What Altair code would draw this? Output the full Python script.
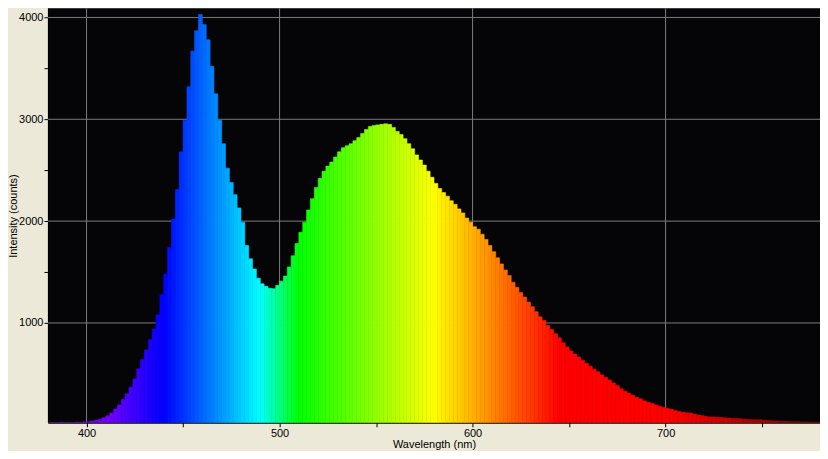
import altair as alt
import pandas as pd

# ---- data ----
WL_START = 380
WL_STEP = 2
intensity = [
    20, 24, 20, 27, 20, 25, 21, 28, 24, 30,            # 380-398
    31, 37, 44, 54, 68, 88, 115, 155, 195, 250,        # 400-418
    305, 370, 450, 550, 640, 735, 835, 940, 1080, 1280,  # 420-438
    1480, 1740, 2020, 2310, 2680, 2990, 3320, 3670, 3870, 4030,  # 440-458
    3930, 3780, 3520, 3250, 2990, 2760, 2520, 2380, 2260, 2130,  # 460-478
    1990, 1760, 1630, 1530, 1440, 1385, 1360, 1340, 1335, 1370,  # 480-498
    1410, 1460, 1550, 1660, 1780, 1890, 1990, 2110, 2220, 2330,  # 500-518
    2420, 2490, 2540, 2580, 2630, 2680, 2720, 2740, 2760, 2790,  # 520-538
    2820, 2860, 2900, 2930, 2940, 2945, 2950, 2955, 2950, 2920,  # 540-558
    2880, 2850, 2810, 2760, 2710, 2650, 2600, 2550, 2490, 2430,  # 560-578
    2370, 2320, 2280, 2245, 2200, 2165, 2120, 2080, 2030, 1990,  # 580-598
    1945, 1920, 1870, 1820, 1760, 1700, 1640, 1580, 1520, 1465,  # 600-618
    1400, 1350, 1300, 1255, 1205, 1160, 1110, 1060, 1025, 975,   # 620-638
    935, 895, 855, 805, 765, 725, 695, 665, 635, 605,            # 640-658
    575, 545, 520, 490, 465, 440, 410, 385, 355, 330,            # 660-678
    310, 290, 270, 255, 235, 222, 210, 195, 182, 170,            # 680-698
    160, 152, 140, 130, 122, 118, 115, 105, 95, 90,              # 700-718
    82, 76, 76, 74, 72, 68, 66, 63, 61, 59,                      # 720-738
    55, 52, 50, 50, 49, 45, 42, 40, 38, 36,                      # 740-758
    34, 32, 31, 30, 30, 29, 29, 28, 27, 26,                      # 760-778
]
wavelengths = [WL_START + i * WL_STEP for i in range(len(intensity))]

x_labels = [400, 500, 600, 700]
x_ticks = [400, 450, 500, 550, 600, 650, 700, 750]
y_labels = [1000, 2000, 3000, 4000]
y_ticks = [1000, 1500, 2000, 2500, 3000, 3500, 4000]

spectrum_wl = [380, 410, 440, 490, 510, 580, 645, 700, 780]
spectrum_colors = ["#5a0096", "#7800ff", "#0000ff", "#00ffff", "#00ff00",
                   "#ffff00", "#ff0000", "#ff0000", "#780000"]

df = pd.DataFrame({"wl": wavelengths, "counts": intensity})

FONT = "Liberation Sans"
xscale = alt.Scale(domain=[380, 780], nice=False, zero=False)
yscale = alt.Scale(domain=[20, 4090], nice=False, zero=False)
cscale = alt.Scale(domain=spectrum_wl, range=spectrum_colors, interpolate="rgb")

x_axis = alt.Axis(
    values=x_ticks, labelExpr="datum.value % 100 == 0 ? datum.label : ''",
    title="Wavelength (nm)", grid=False, format="d",
    tickSize=4, tickColor="#000000", domainColor="#000000",
    labelPadding=1, titlePadding=0, labelFlush=False)
y_axis = alt.Axis(
    values=y_ticks, labelExpr="datum.value % 1000 == 0 ? datum.label : ''",
    title="Intensity (counts)", grid=False, format="d",
    tickSize=4, tickColor="#000000", domainColor="#000000",
    labelPadding=1, labelFlush=False,
    titleX=-34, titleBaseline="middle")

grid_x = alt.Chart(pd.DataFrame({"v": x_labels})).mark_rule(
    color="#7c7c7c", strokeWidth=1
).encode(x=alt.X("v:Q", scale=xscale, axis=x_axis))

grid_y = alt.Chart(pd.DataFrame({"v": y_labels})).mark_rule(
    color="#7c7c7c", strokeWidth=1
).encode(y=alt.Y("v:Q", scale=yscale, axis=y_axis))

bars = alt.Chart(df).transform_calculate(
    wl2=f"datum.wl + {WL_STEP}", wlc=f"datum.wl + {WL_STEP / 2}"
).mark_rect(clip=True, strokeWidth=0.6).encode(
    x=alt.X("wl:Q", scale=xscale, axis=x_axis),
    x2="wl2:Q",
    y=alt.Y("counts:Q", scale=yscale, axis=y_axis),
    y2=alt.datum(20),
    color=alt.Color("wlc:Q", scale=cscale, legend=None),
    stroke=alt.Stroke("wlc:Q", scale=cscale, legend=None),
)

chart = alt.layer(grid_x, grid_y, bars).properties(
    width=773, height=415,
    autosize=alt.AutoSizeParams(type="none"),
    padding={"left": 40, "top": 0, "right": 0, "bottom": 28},
    background="#ECE9D8",
).configure_view(
    fill="#050407", strokeWidth=0
).configure_axis(
    labelFont=FONT, labelFontSize=11, labelColor="#000000",
    titleFont=FONT, titleFontSize=11, titleColor="#000000", titleFontWeight="normal",
)

chart.save("out.html", embed_options={"renderer": "svg", "actions": False})
